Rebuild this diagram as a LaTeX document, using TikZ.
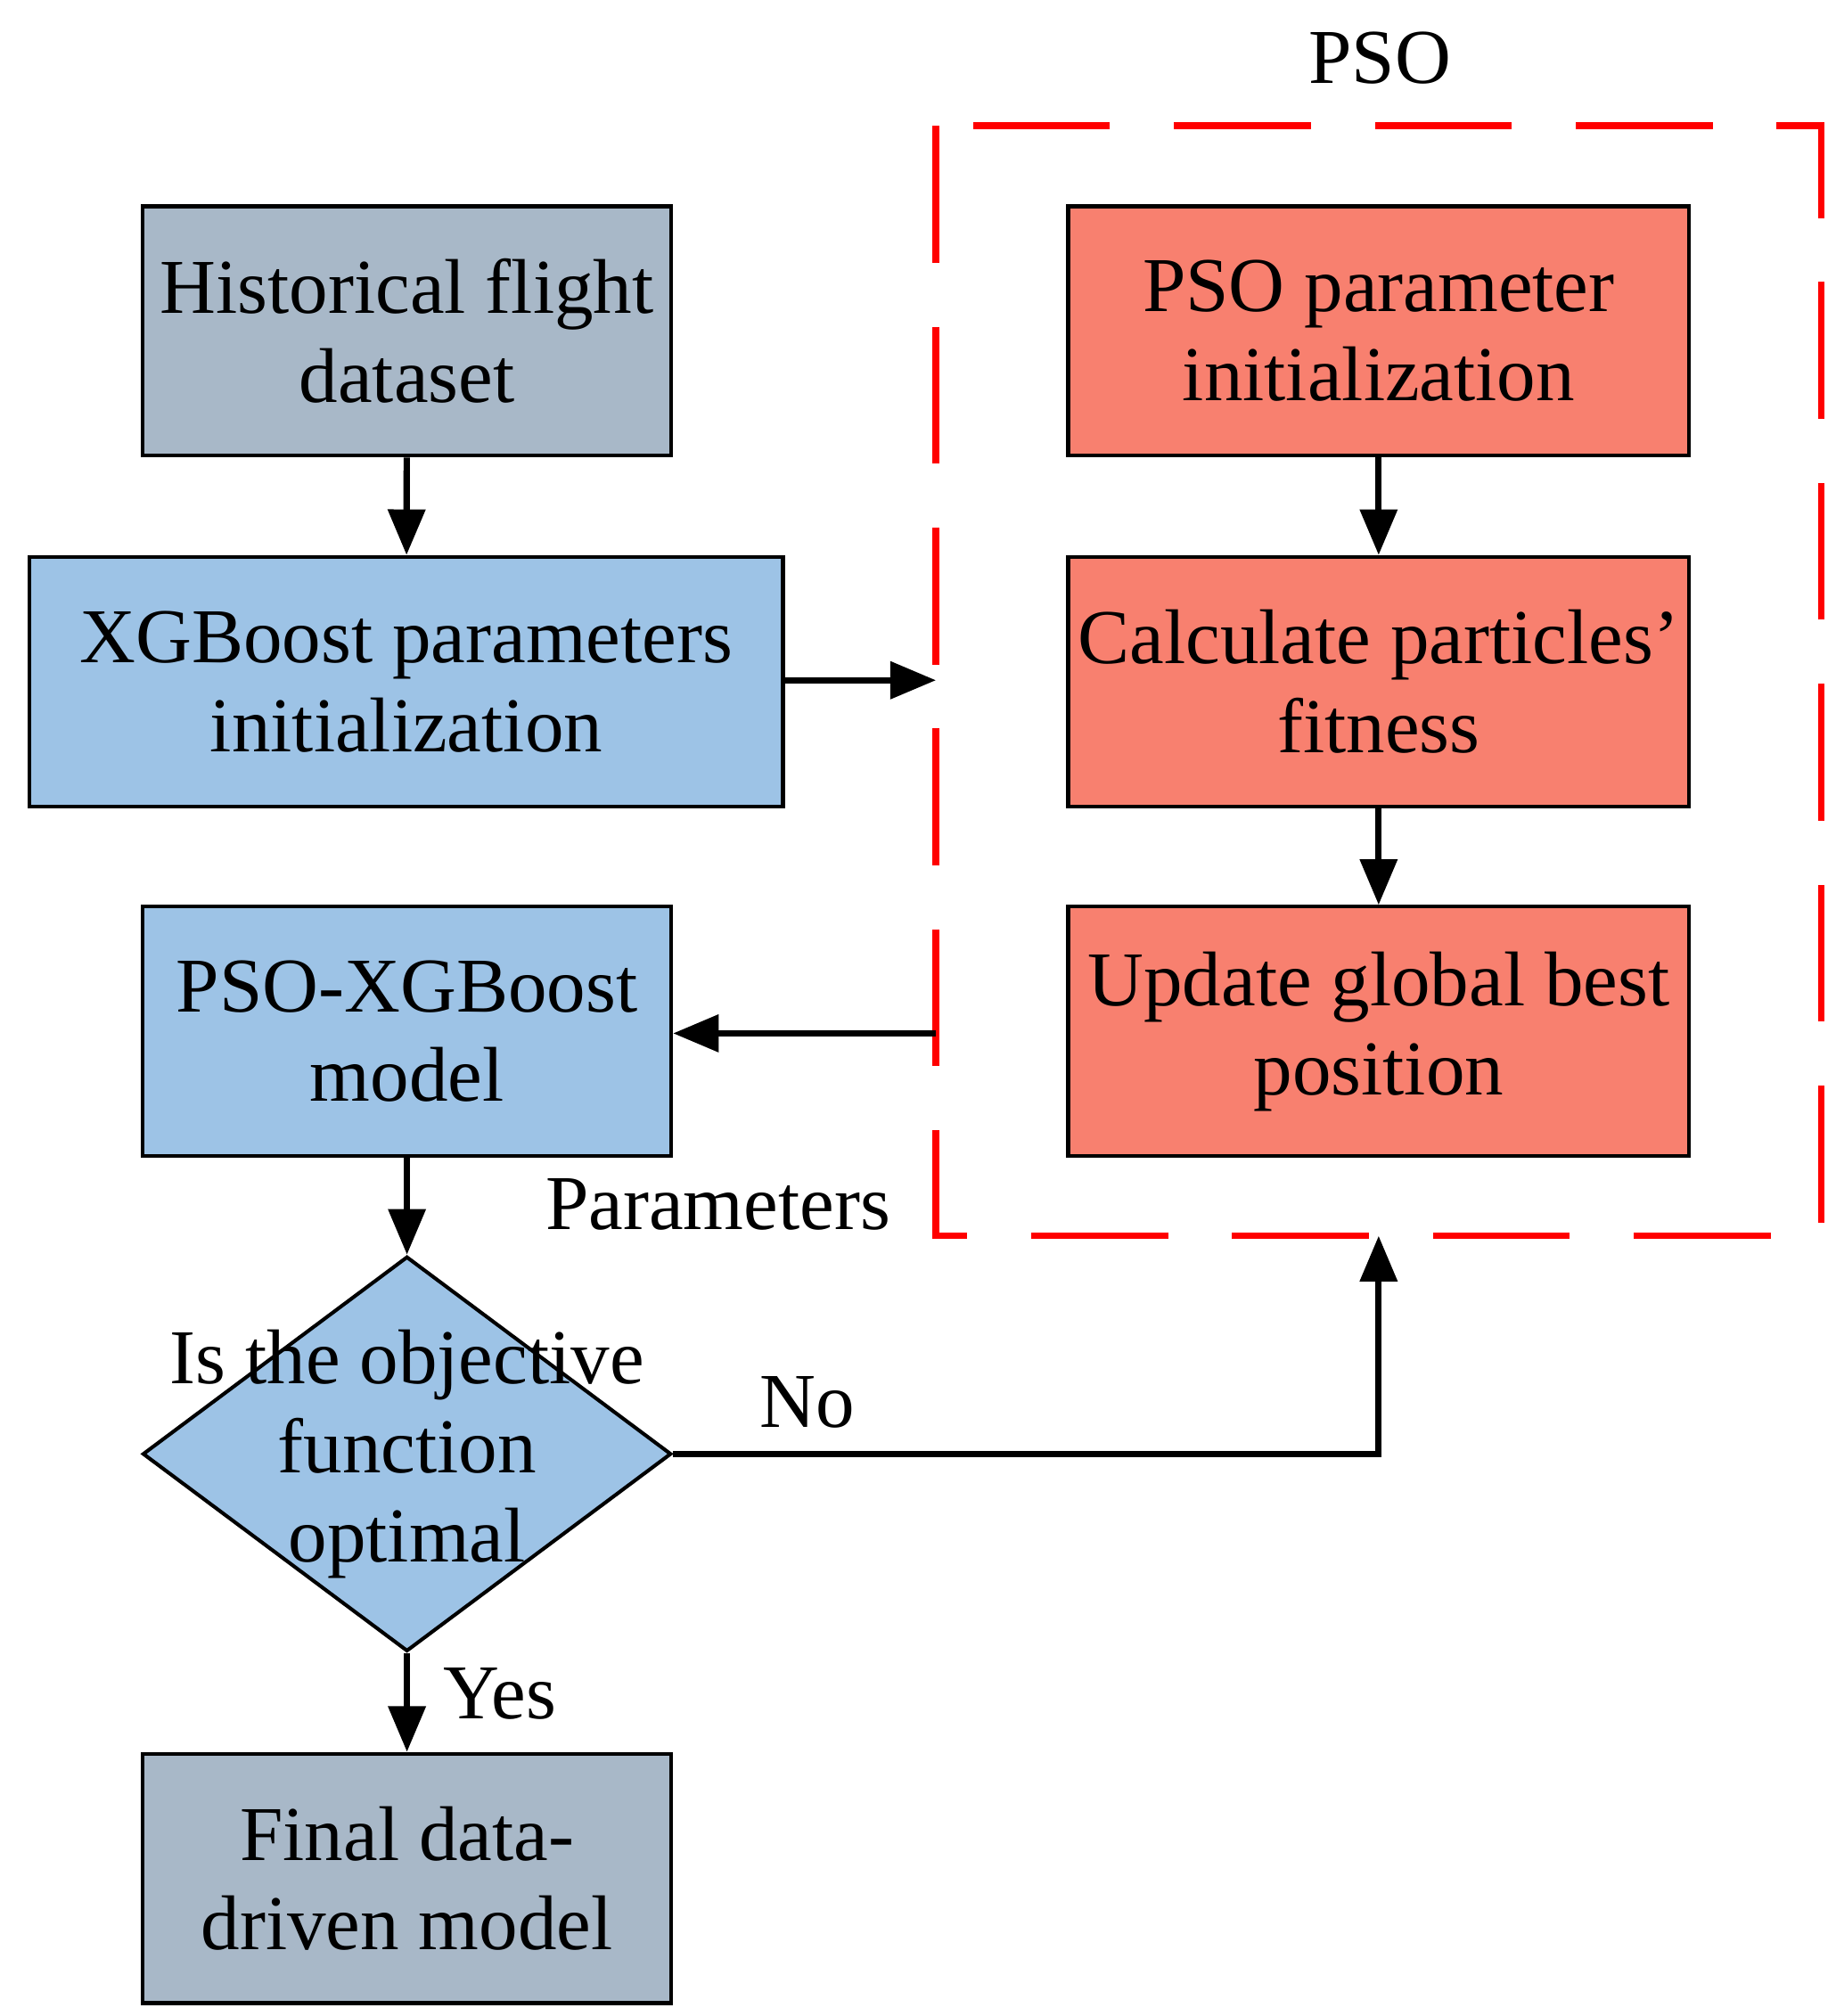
\documentclass[tikz,border=0pt]{standalone}
\usepackage{fontspec}
\setmainfont{Liberation Serif}
\usetikzlibrary{arrows.meta,shapes.geometric}
\definecolor{cgray}{HTML}{A8B8C8}
\definecolor{cblue}{HTML}{9DC3E6}
\definecolor{csal}{HTML}{F8806F}
\begin{document}
\begin{tikzpicture}[x=0.01cm,y=-0.01cm,
  box/.style={draw=black,line width=0.8pt,minimum width=4.07cm,minimum height=1.92cm,align=center,inner sep=0pt,font=\fontsize{17}{19.5}\selectfont},
  arr/.style={line width=1.4pt,-{Triangle[length=10pt,width=8pt]}},
  lab/.style={font=\fontsize{17}{19.5}\selectfont}]
\useasboundingbox (0,0) rectangle (1414,1553);
\node[box,fill=cgray] (hist) at (313.5,255) {Historical flight\\dataset};
\node[box,fill=cblue,minimum width=5.8cm] (xgb) at (313,525) {XGBoost parameters\\initialization};
\node[box,fill=cblue] (psox) at (313.5,794.5) {PSO-XGBoost\\model};
\node[diamond,draw=black,line width=0.8pt,fill=cblue,minimum width=4.07cm,minimum height=3.04cm,inner sep=0pt,aspect=1.34] (dia) at (313.5,1120) {};
\node[lab,align=center] at (313.5,1120) {Is the objective\\function\\optimal};
\node[box,fill=cgray] (fin) at (313.5,1447) {Final data-\\driven model};
\node[box,fill=csal,minimum width=4.78cm] (pi) at (1062,255) {PSO parameter\\initialization};
\node[box,fill=csal,minimum width=4.78cm] (calc) at (1062,525) {Calculate particles’\\fitness};
\node[box,fill=csal,minimum width=4.78cm] (upd) at (1062,794.5) {Update global best\\position};
\draw[red,line width=1.5pt,dash pattern=on 30pt off 14pt] (721,97) rectangle (1403,952);
\node[lab] at (1063,45) {PSO};
\coordinate (bl) at (721,524);
\coordinate (br) at (721,796);
\coordinate (bb) at (1062,952);
\coordinate (corner) at (1062,1120);
\draw[arr] (hist) -- (xgb);
\draw[arr] (xgb.east |- bl) -- (bl);
\draw[arr] (pi) -- (calc);
\draw[arr] (calc) -- (upd);
\draw[arr] (br) -- (psox.east |- br);
\draw[arr] (psox) -- (dia.north);
\draw[arr] (dia.south) -- (fin);
\draw[arr] (dia.east) -- (corner) -- (bb);
\node[lab] at (553,928) {Parameters};
\node[lab] at (622,1080) {No};
\node[lab] at (385,1305) {Yes};
\end{tikzpicture}
\end{document}
